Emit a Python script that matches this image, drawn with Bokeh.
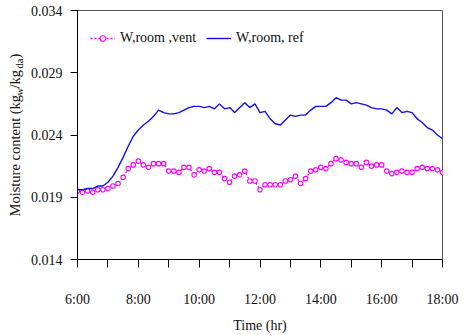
from bokeh.plotting import figure
from bokeh.layouts import row
from bokeh.models import (FixedTicker, Legend, LegendItem, Label, Range1d,
                          NumeralTickFormatter)
from bokeh.embed import file_html
from bokeh.resources import INLINE

# ---------------- data ----------------
clock = ["6:00", "6:10", "6:20", "6:30", "6:40", "6:50",
         "7:00", "7:10", "7:20", "7:30", "7:40", "7:50",
         "8:00", "8:10", "8:20", "8:30", "8:40", "8:50",
         "9:00", "9:10", "9:20", "9:30", "9:40", "9:50",
         "10:00", "10:10", "10:20", "10:30", "10:40", "10:50",
         "11:00", "11:10", "11:20", "11:30", "11:40", "11:50",
         "12:00", "12:10", "12:20", "12:30", "12:40", "12:50",
         "13:00", "13:10", "13:20", "13:30", "13:40", "13:50",
         "14:00", "14:10", "14:20", "14:30", "14:40", "14:50",
         "15:00", "15:10", "15:20", "15:30", "15:40", "15:50",
         "16:00", "16:10", "16:20", "16:30", "16:40", "16:50",
         "17:00", "17:10", "17:20", "17:30", "17:40", "17:50",
         "18:00"]

w_room_vent = [0.0195, 0.0194, 0.0195, 0.0194, 0.0196, 0.0196,
               0.0197, 0.0199, 0.0201, 0.0206, 0.0213, 0.0216,
               0.0219, 0.0216, 0.0214, 0.0217, 0.0217, 0.0217,
               0.0211, 0.0211, 0.0210, 0.0214, 0.0214, 0.0208,
               0.0212, 0.0211, 0.0213, 0.0210, 0.0210, 0.0205,
               0.0202, 0.0207, 0.0208, 0.0211, 0.0203, 0.0203,
               0.0196, 0.0200, 0.0200, 0.0200, 0.0200, 0.0203,
               0.0204, 0.0207, 0.0201, 0.0205, 0.0211, 0.0212,
               0.0214, 0.0213, 0.0217, 0.0221, 0.0220, 0.0218,
               0.0217, 0.0217, 0.0214, 0.0218, 0.0215, 0.0216,
               0.0216, 0.0211, 0.0209, 0.0210, 0.0211, 0.0210,
               0.0210, 0.0213, 0.0214, 0.0213, 0.0213, 0.0212,
               0.0210]

w_room_ref = [0.0196, 0.0196, 0.0197, 0.0197, 0.0199, 0.0199,
              0.0202, 0.0207, 0.0214, 0.0222, 0.0231, 0.0239,
              0.0244, 0.0248, 0.0251, 0.0255, 0.0260, 0.0258,
              0.0257, 0.0257, 0.0258, 0.0260, 0.0262, 0.0263,
              0.0263, 0.0262, 0.0263, 0.0261, 0.0265, 0.0261,
              0.0262, 0.0258, 0.0262, 0.0266, 0.0262, 0.0265,
              0.0258, 0.0259, 0.0253, 0.0249, 0.0248, 0.0252,
              0.0256, 0.0255, 0.0256, 0.0256, 0.0260, 0.0263,
              0.0263, 0.0263, 0.0266, 0.0270, 0.0268, 0.0268,
              0.0265, 0.0266, 0.0265, 0.0264, 0.0262, 0.0261,
              0.0261, 0.0260, 0.0257, 0.0262, 0.0258, 0.0259,
              0.0258, 0.0253, 0.0250, 0.0246, 0.0244, 0.0240,
              0.0237]

y_ticks = [0.014, 0.019, 0.024, 0.029, 0.034]
x_tick_labels = ["6:00", "8:00", "10:00", "12:00", "14:00", "16:00", "18:00"]
x_minor_labels = ["7:00", "9:00", "11:00", "13:00", "15:00", "17:00"]
series_labels = ["W,room ,vent", "W,room, ref"]


def to_hr(s):
    h, m = s.split(":")
    return int(h) + int(m) / 60.0


t = [to_hr(s) for s in clock]

FONT = "Liberation Serif"
VENT_C = "#FF00FF"
REF_C = "#1010F0"
TXT_C = "#111111"

# ---------------- main chart ----------------
p = figure(width=440, height=335, output_backend="svg", toolbar_location=None,
           x_range=Range1d(to_hr(x_tick_labels[0]), to_hr(x_tick_labels[-1])),
           y_range=Range1d(y_ticks[0], y_ticks[-1]),
           min_border_left=52, min_border_right=23,
           min_border_top=10, min_border_bottom=76,
           background_fill_color="white", border_fill_color="white")

p.xgrid.visible = False
p.ygrid.visible = False
p.outline_line_color = "#555555"
p.outline_line_width = 1

# x axis
p.xaxis.ticker = FixedTicker(ticks=[to_hr(s) for s in x_tick_labels],
                             minor_ticks=[to_hr(s) for s in x_minor_labels])
p.xaxis.major_label_overrides = {to_hr(s): s for s in x_tick_labels}
p.xaxis.major_tick_out = 8
p.xaxis.major_tick_in = 0
p.xaxis.minor_tick_out = 8
p.xaxis.minor_tick_in = 0
p.xaxis.minor_tick_line_color = "black"
p.xaxis.major_label_standoff = 24
p.xaxis.axis_label = "Time (hr)"
p.xaxis.axis_label_standoff = 8

# y axis
p.yaxis.ticker = FixedTicker(ticks=y_ticks, minor_ticks=[])
p.yaxis.formatter = NumeralTickFormatter(format="0.000")
p.yaxis.major_tick_out = 7
p.yaxis.major_tick_in = 0
p.yaxis.minor_tick_line_color = None
p.yaxis.major_label_standoff = 8

for ax in (p.xaxis[0], p.yaxis[0]):
    ax.axis_line_color = "black"
    ax.axis_line_width = 1
    ax.major_tick_line_color = "black"
    ax.major_label_text_font = FONT
    ax.major_label_text_font_size = "14px"
    ax.major_label_text_color = TXT_C
    ax.axis_label_text_font = FONT
    ax.axis_label_text_font_size = "14px"
    ax.axis_label_text_font_style = "normal"
    ax.axis_label_text_color = TXT_C

# series
vent_line = p.line(t, w_room_vent, line_color=VENT_C, line_width=1.3, line_dash="2 2")
vent_pts = p.scatter(t, w_room_vent, marker="circle", size=4.5, line_color=VENT_C,
                     line_width=1.1, fill_color="white")
ref_line = p.line(t, w_room_ref, line_color=REF_C, line_width=1.4)

legend = Legend(items=[LegendItem(label=series_labels[0], renderers=[vent_line, vent_pts]),
                       LegendItem(label=series_labels[1], renderers=[ref_line])],
                orientation="horizontal", location=(13, 213),
                border_line_alpha=0, background_fill_alpha=0,
                label_text_font=FONT, label_text_font_size="14px",
                label_text_color=TXT_C,
                glyph_width=25, glyph_height=14, label_standoff=5,
                spacing=10, padding=0, margin=0)
p.add_layout(legend)

# ---------------- rotated y-axis title (with subscripts) ----------------
lab = figure(width=25, height=335, output_backend="svg", toolbar_location=None,
             x_range=Range1d(0, 1), y_range=Range1d(0, 1),
             x_axis_location=None, y_axis_location=None,
             min_border=0, outline_line_color=None,
             background_fill_color="white", border_fill_color="white")
lab.xgrid.visible = False
lab.ygrid.visible = False

pieces = [("Moisture content (kg", "14.5px", 0.0, 0.0),
          ("w", "10.5px", 4.0, 121.0),
          ("/kg", "14.5px", 0.0, 128.0),
          ("da", "10.5px", 4.0, 148.0),
          (")", "14.5px", 0.0, 158.0)]
base_x = 14.5
base_y = 43.0
for txt, fs, dx, dy in pieces:
    lab.add_layout(Label(x=base_x + dx, y=base_y + dy, x_units="screen", y_units="screen",
                         text=txt, angle=1.5707963267948966, text_font=FONT,
                         text_font_size=fs, text_color=TXT_C,
                         text_align="left", text_baseline="middle"))

layout = row(lab, p, spacing=0)
open("out.html", "w").write(file_html(layout, INLINE))
